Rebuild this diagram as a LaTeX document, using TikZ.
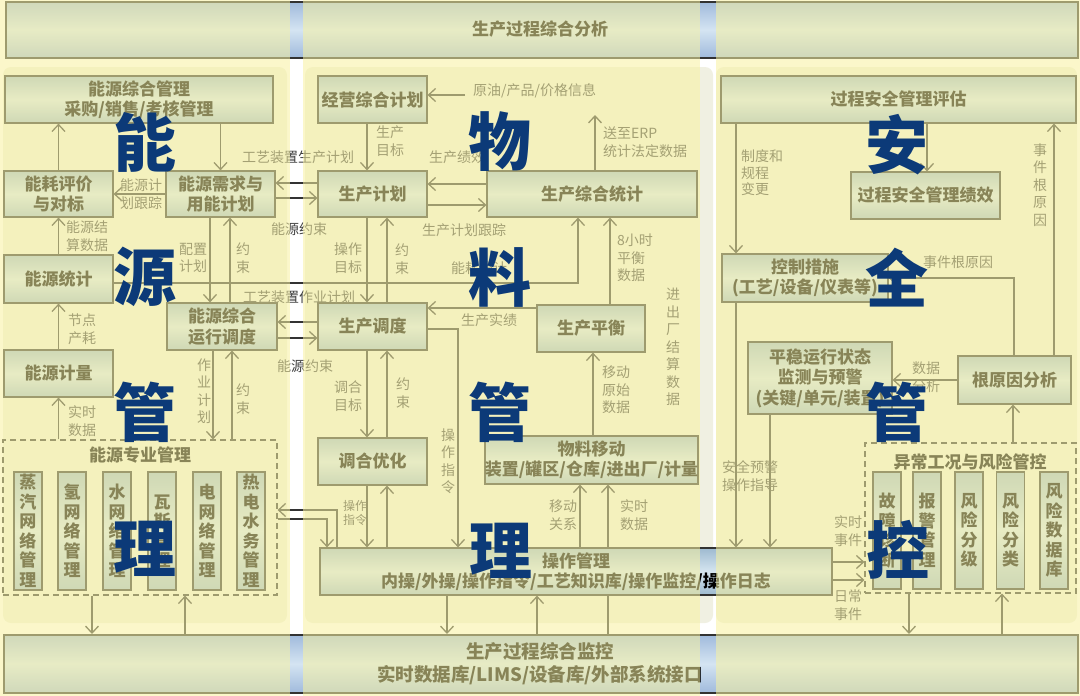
\documentclass[tikz,border=0pt]{standalone}
\usepackage{fontspec}
\setmainfont{Noto Sans CJK SC}
\usetikzlibrary{arrows.meta,calc}
\definecolor{ovl}{RGB}{248,242,160}
\definecolor{navy}{RGB}{12,58,120}
\definecolor{bxA}{RGB}{158,186,208}
\definecolor{bxB}{RGB}{213,229,240}
\definecolor{bdA}{RGB}{160,186,220}
\definecolor{bdB}{RGB}{212,228,242}
\definecolor{ink}{RGB}{50,50,50}
\definecolor{labc}{RGB}{62,62,62}
\definecolor{panel}{RGB}{240,240,226}
\begin{document}
\begin{tikzpicture}[x=1pt,y=-1pt,
 box/.style={draw=ink,line width=1.2pt,top color=bxA,bottom color=bxA,middle color=bxB,inner sep=0pt,align=center,text=black,font=\bfseries\fontsize{17}{20.5}\selectfont},
 subbox/.style={box,minimum width=28pt,minimum height=118pt,font=\bfseries\fontsize{17}{19.5}\selectfont},
 dbox/.style={draw=ink,line width=1.2pt,dash pattern=on 6pt off 4pt,inner sep=0pt},
 lab/.style={inner sep=0pt,text=labc,align=center,font=\fontsize{14}{17.5}\selectfont},
 con/.style={draw=ink,line width=1.3pt},
 arr/.style={con,-{Straight Barb[length=7pt,width=13pt]}},
 big/.style={inner sep=0pt,text=navy,font=\bfseries\fontsize{63}{63}\selectfont},
 band/.style={draw=ink,line width=1.5pt,top color=bdA,bottom color=bdA,middle color=bdB,inner sep=0pt},
 ttl/.style={inner sep=0pt,text=black,align=center,font=\bfseries\fontsize{17}{21}\selectfont},
]
\useasboundingbox (0,0) rectangle (1080,696);
\fill[white] (0,0) rectangle (1080,696);
% background panels
\fill[panel,rounded corners=8pt] (3,67) rectangle (287,623);
\fill[panel,rounded corners=8pt] (305,67) rectangle (713,623);
\fill[panel,rounded corners=8pt] (716,67) rectangle (1077,623);
% bands
\node[band,minimum width=1072pt,minimum height=56pt,anchor=north west] (topband) at (5,1) {};
\node[ttl] (toptext) at (540,29) {生产过程综合分析};
\node[band,minimum width=1074pt,minimum height=58pt,anchor=north west] (botband) at (3,634) {};
\node[ttl,font=\bfseries\fontsize{18.5}{23}\selectfont] (bottext) at (540,664) {生产过程综合监控\\实时数据库/LIMS/设备库/外部系统接口};
% left boxes
\node[box,minimum width=268pt,minimum height=47pt] (eM) at (139,99.5) {能源综合管理\\采购/销售/考核管理};
\node[box,minimum width=109pt,minimum height=46pt] (eP) at (58.5,194) {能耗评价\\与对标};
\node[box,minimum width=109pt,minimum height=46pt] (eD) at (220.5,194) {能源需求与\\用能计划};
\node[box,minimum width=109pt,minimum height=48pt] (eS) at (58.5,279) {能源统计};
\node[box,minimum width=110pt,minimum height=47pt] (eR) at (222,326.5) {能源综合\\运行调度};
\node[box,minimum width=109pt,minimum height=47pt] (eC) at (58.5,373.5) {能源计量};
\node[dbox,minimum width=274pt,minimum height=155pt] (eZ) at (140,517.5) {};
\node[ttl] (eZt) at (140,455) {能源专业管理};
\node[subbox] (s1) at (28,531) {蒸\\汽\\网\\络\\管\\理};
\node[subbox] (s2) at (72,531) {氢\\网\\络\\管\\理};
\node[subbox] (s3) at (117,531) {水\\网\\络\\管\\理};
\node[subbox] (s4) at (162,531) {瓦\\斯\\管\\理};
\node[subbox] (s5) at (207,531) {电\\网\\络\\管\\理};
\node[subbox] (s6) at (251,531) {热\\电\\水\\务\\管\\理};
% middle boxes
\node[box,minimum width=109pt,minimum height=47pt] (mJ) at (372.5,99.5) {经营综合计划};
\node[box,minimum width=109pt,minimum height=46pt] (mP) at (372.5,194) {生产计划};
\node[box,minimum width=210pt,minimum height=46pt] (mS) at (592,194) {生产综合统计};
\node[box,minimum width=109pt,minimum height=47pt] (mD) at (372.5,326.5) {生产调度};
\node[box,minimum width=108pt,minimum height=47pt] (mB) at (591,328.5) {生产平衡};
\node[box,minimum width=109pt,minimum height=47pt] (mO) at (372.5,461.5) {调合优化};
\node[box,minimum width=209pt,minimum height=48pt] (mM) at (591.5,460) {物料移动\\装置/罐区/仓库/进出厂/计量};
\node[box,minimum width=512pt,minimum height=47pt] (mC) at (576,571.5) {操作管理\\内操/外操/操作指令/工艺知识库/操作监控/操作日志};
% right boxes
\node[box,minimum width=355pt,minimum height=47pt] (rE) at (898.5,99.5) {过程安全管理评估};
\node[box,minimum width=149pt,minimum height=47pt] (rP) at (925.5,195.5) {过程安全管理绩效};
\node[box,minimum width=166pt,minimum height=48pt] (rK) at (805,278) {控制措施\\(工艺/设备/仪表等)};
\node[box,minimum width=144pt,minimum height=72pt] (rW) at (820,378) {平稳运行状态\\监测与预警\\(关键/单元/装置)};
\node[box,minimum width=113pt,minimum height=48pt] (rA) at (1014.5,380) {根原因分析};
\node[dbox,minimum width=211pt,minimum height=150pt] (rZ) at (970.5,518) {};
\node[ttl] (rZt) at (970,462) {异常工况与风险管控};
\node[subbox,minimum height=117pt] (r1) at (887,530.5) {故\\障\\诊\\断};
\node[subbox,minimum height=117pt] (r2) at (927,530.5) {报\\警\\管\\理};
\node[subbox,minimum height=117pt] (r3) at (969,530.5) {风\\险\\分\\级};
\node[subbox,minimum height=117pt] (r4) at (1010.5,530.5) {风\\险\\分\\类};
\node[subbox,minimum height=117pt] (r5) at (1054,530.5) {风\\险\\数\\据\\库};
% helper coordinates
\coordinate (xa) at (210,0); \coordinate (xb) at (230,0);
\coordinate (xc) at (213,0); \coordinate (xd) at (232,0);
\coordinate (ya) at (0,283); \coordinate (xe) at (578,0);
\coordinate (yb) at (0,183); \coordinate (yc) at (0,198);
\coordinate (yd) at (0,322); \coordinate (ye) at (0,338);
\coordinate (xf) at (92,0); \coordinate (xg) at (185,0);
\coordinate (yf) at (0,510); \coordinate (yg) at (0,519);
\coordinate (xh) at (337,0); \coordinate (xi) at (327,0);
\coordinate (src) at (465,95);
\coordinate (xj) at (367,0); \coordinate (xk) at (387,0);
\coordinate (yh) at (0,184); \coordinate (yi) at (0,205);
\coordinate (erp) at (595,115);
\coordinate (xl) at (610,0);
\coordinate (yj) at (0,308);
\coordinate (yk) at (0,329); \coordinate (xm) at (458,0);
\coordinate (xn) at (593,0);
\coordinate (xo) at (580,0); \coordinate (xp) at (608,0);
\coordinate (xq) at (447,0); \coordinate (xr) at (537,0);
\coordinate (yl) at (0,562); \coordinate (ym) at (0,580);
\coordinate (xs) at (736,0); \coordinate (xt) at (927,0);
\coordinate (xu) at (1054,0); \coordinate (xv) at (1014,0); \coordinate (yn) at (0,278);
\coordinate (xw) at (1013,0); \coordinate (xx) at (770,0);
\coordinate (xy) at (909,0); \coordinate (xz) at (1002,0);
% left connectors
\draw[arr] (eP.north) -- (eP.north |- eM.south);
\draw[arr] (eD.north |- eM.south) -- (eD.north);
\draw[arr] (eD.west) -- (eP.east);
\draw[arr] (eS.north) -- (eP.south);
\draw[arr] (eC.north) -- (eS.south);
\draw[arr] (eC.south |- eZ.north) -- (eC.south);
\draw[arr] (xa |- eD.south) -- (xa |- eR.north);
\draw[arr] (xb |- eR.north) -- (xb |- eD.south);
\draw[arr] (xc |- eR.south) -- (xc |- eZ.north);
\draw[arr] (xd |- eZ.north) -- (xd |- eR.south);
\draw[arr] (eS.east |- ya) -- (xe |- ya) -- (xe |- mS.south);
\draw[arr] (mP.west |- yb) -- (eD.east |- yb);
\draw[arr] (eD.east |- yc) -- (mP.west |- yc);
\draw[arr] (mD.west |- yd) -- (eR.east |- yd);
\draw[arr] (eR.east |- ye) -- (mD.west |- ye);
\draw[arr] (xf |- eZ.south) -- (xf |- botband.north);
\draw[arr] (xg |- botband.north) -- (xg |- eZ.south);
\draw[arr] (xh |- mC.north) -- (xh |- yf) -- (eZ.east |- yf);
\draw[arr] (eZ.east |- yg) -- (xi |- yg) -- (xi |- mC.north);
% middle connectors
\draw[arr] (src) -- (mJ.east |- src);
\draw[arr] (xj |- mJ.south) -- (xj |- mP.north);
\draw[arr] (mS.west |- yh) -- (mP.east |- yh);
\draw[arr] (mP.east |- yi) -- (mS.west |- yi);
\draw[arr] (erp |- mS.north) -- (erp);
\draw[arr] (xl |- mB.north) -- (xl |- mS.south);
\draw[arr] (xj |- mP.south) -- (xj |- mD.north);
\draw[arr] (xk |- mD.north) -- (xk |- mP.south);
\draw[arr] (mB.west |- yj) -- (mD.east |- yj);
\draw[arr] (mD.east |- yk) -- (xm |- yk) -- (xm |- mC.north);
\draw[arr] (xj |- mD.south) -- (xj |- mO.north);
\draw[arr] (xk |- mO.north) -- (xk |- mD.south);
\draw[arr] (xj |- mO.south) -- (xj |- mC.north);
\draw[arr] (xk |- mC.north) -- (xk |- mO.south);
\draw[arr] (xn |- mM.north) -- (xn |- mB.south);
\draw[arr] (xo |- mC.north) -- (xo |- mM.south);
\draw[con] (xp |- botband.north) -- (xp |- mC.south);
\draw[arr] (xp |- mC.north) -- (xp |- mM.south);
\draw[arr] (xq |- mC.south) -- (xq |- botband.north);
\draw[arr] (xr |- botband.north) -- (xr |- mC.south);
\draw[arr] (mC.east |- yl) -- (rZ.west |- yl);
\draw[arr] (mC.east |- ym) -- (rZ.west |- ym);
% right connectors
\draw[arr] (xs |- rE.south) -- (xs |- rK.north);
\draw[arr] (xs |- rK.south) -- (xs |- mC.north);
\draw[arr] (xt |- rE.south) -- (xt |- rP.north);
\draw[arr] (xu |- rA.north) -- (xu |- rE.south);
\draw[arr] (xv |- rA.north) -- (xv |- yn) -- (rK.east |- yn);
\draw[arr] (rA.west) -- (rA.west -| rW.east);
\draw[arr] (xw |- rZ.north) -- (xw |- rA.south);
\draw[arr] (xx |- rW.south) -- (xx |- mC.north);
\draw[arr] (xy |- rZ.south) -- (xy |- botband.north);
\draw[arr] (xz |- botband.north) -- (xz |- rZ.south);
% labels
\node[lab] (L1) at (141,194) {能源计\\划跟踪};
\node[lab] (L2) at (87,236) {能源结\\算数据};
\node[lab] (L3) at (193,258) {配置\\计划};
\node[lab] (L4) at (243,258) {约\\束};
\node[lab] (L5) at (82,329) {节点\\产耗};
\node[lab] (L6) at (82,421) {实时\\数据};
\node[lab] (L7) at (204,391) {作\\业\\计\\划};
\node[lab] (L8) at (243,399) {约\\束};
\node[lab] (L9) at (298,157) {工艺装置生产计划};
\node[lab] (L10) at (299,229) {能源约束};
\node[lab] (L11) at (299,297) {工艺装置作业计划};
\node[lab] (L12) at (305,366) {能源约束};
\node[lab] (L13) at (479,268) {能耗统计};
\node[lab,anchor=west] (L14) at (473,91) {原油/产品/价格信息};
\node[lab] (L15) at (390,141) {生产\\目标};
\node[lab] (L16) at (457,157) {生产绩效};
\node[lab] (L17) at (464,230) {生产计划跟踪};
\node[lab,anchor=west,align=left] (L18) at (603,142) {送至ERP\\统计法定数据};
\node[lab,anchor=west,align=left] (L19) at (617,258) {8小时\\平衡\\数据};
\node[lab] (L20) at (348,258) {操作\\目标};
\node[lab] (L21) at (402,259) {约\\束};
\node[lab] (L22) at (489,320) {生产实绩};
\node[lab] (L23) at (448,461) {操\\作\\指\\令};
\node[lab] (L24) at (348,396) {调合\\目标};
\node[lab] (L25) at (403,393) {约\\束};
\node[lab,font=\fontsize{12}{14.5}\selectfont] (L26) at (355,513) {操作\\指令};
\node[lab,anchor=west,align=left] (L27) at (602,390) {移动\\原始\\数据};
\node[lab] (L28) at (673,347) {进\\出\\厂\\结\\算\\数\\据};
\node[lab] (L29) at (563,515) {移动\\关系};
\node[lab] (L30) at (634,515) {实时\\数据};
\node[lab] (L31) at (848,531) {实时\\事件};
\node[lab] (L32) at (848,605) {日常\\事件};
\node[lab,anchor=west,align=left,font=\fontsize{14}{16.5}\selectfont] (L33) at (741,173) {制度和\\规程\\变更};
\node[lab] (L34) at (1040,185) {事\\件\\根\\原\\因};
\node[lab] (L35) at (958,262) {事件根原因};
\node[lab] (L36) at (926,377) {数据\\分析};
\node[lab] (L37) at (750,476) {安全预警\\操作指导};
% translucent column overlays
\fill[ovl,fill opacity=0.55] (0,0) rectangle (290,696);
\fill[ovl,fill opacity=0.55] (303,0) rectangle (700,696);
\fill[ovl,fill opacity=0.55] (716,0) rectangle (1080,696);
% big characters
\node[big] (g1) at (145,142) {能};
\node[big] (g2) at (145,277) {源};
\node[big] (g3) at (145,412) {管};
\node[big] (g4) at (145,549) {理};
\node[big] (g5) at (500,142) {物};
\node[big] (g6) at (500,277) {料};
\node[big] (g7) at (500,412) {管};
\node[big] (g8) at (501,551) {理};
\node[big] (g9) at (897,145) {安};
\node[big] (g10) at (897,278) {全};
\node[big] (g11) at (897,412) {管};
\node[big] (g12) at (898,550) {控};
\end{tikzpicture}
\end{document}
